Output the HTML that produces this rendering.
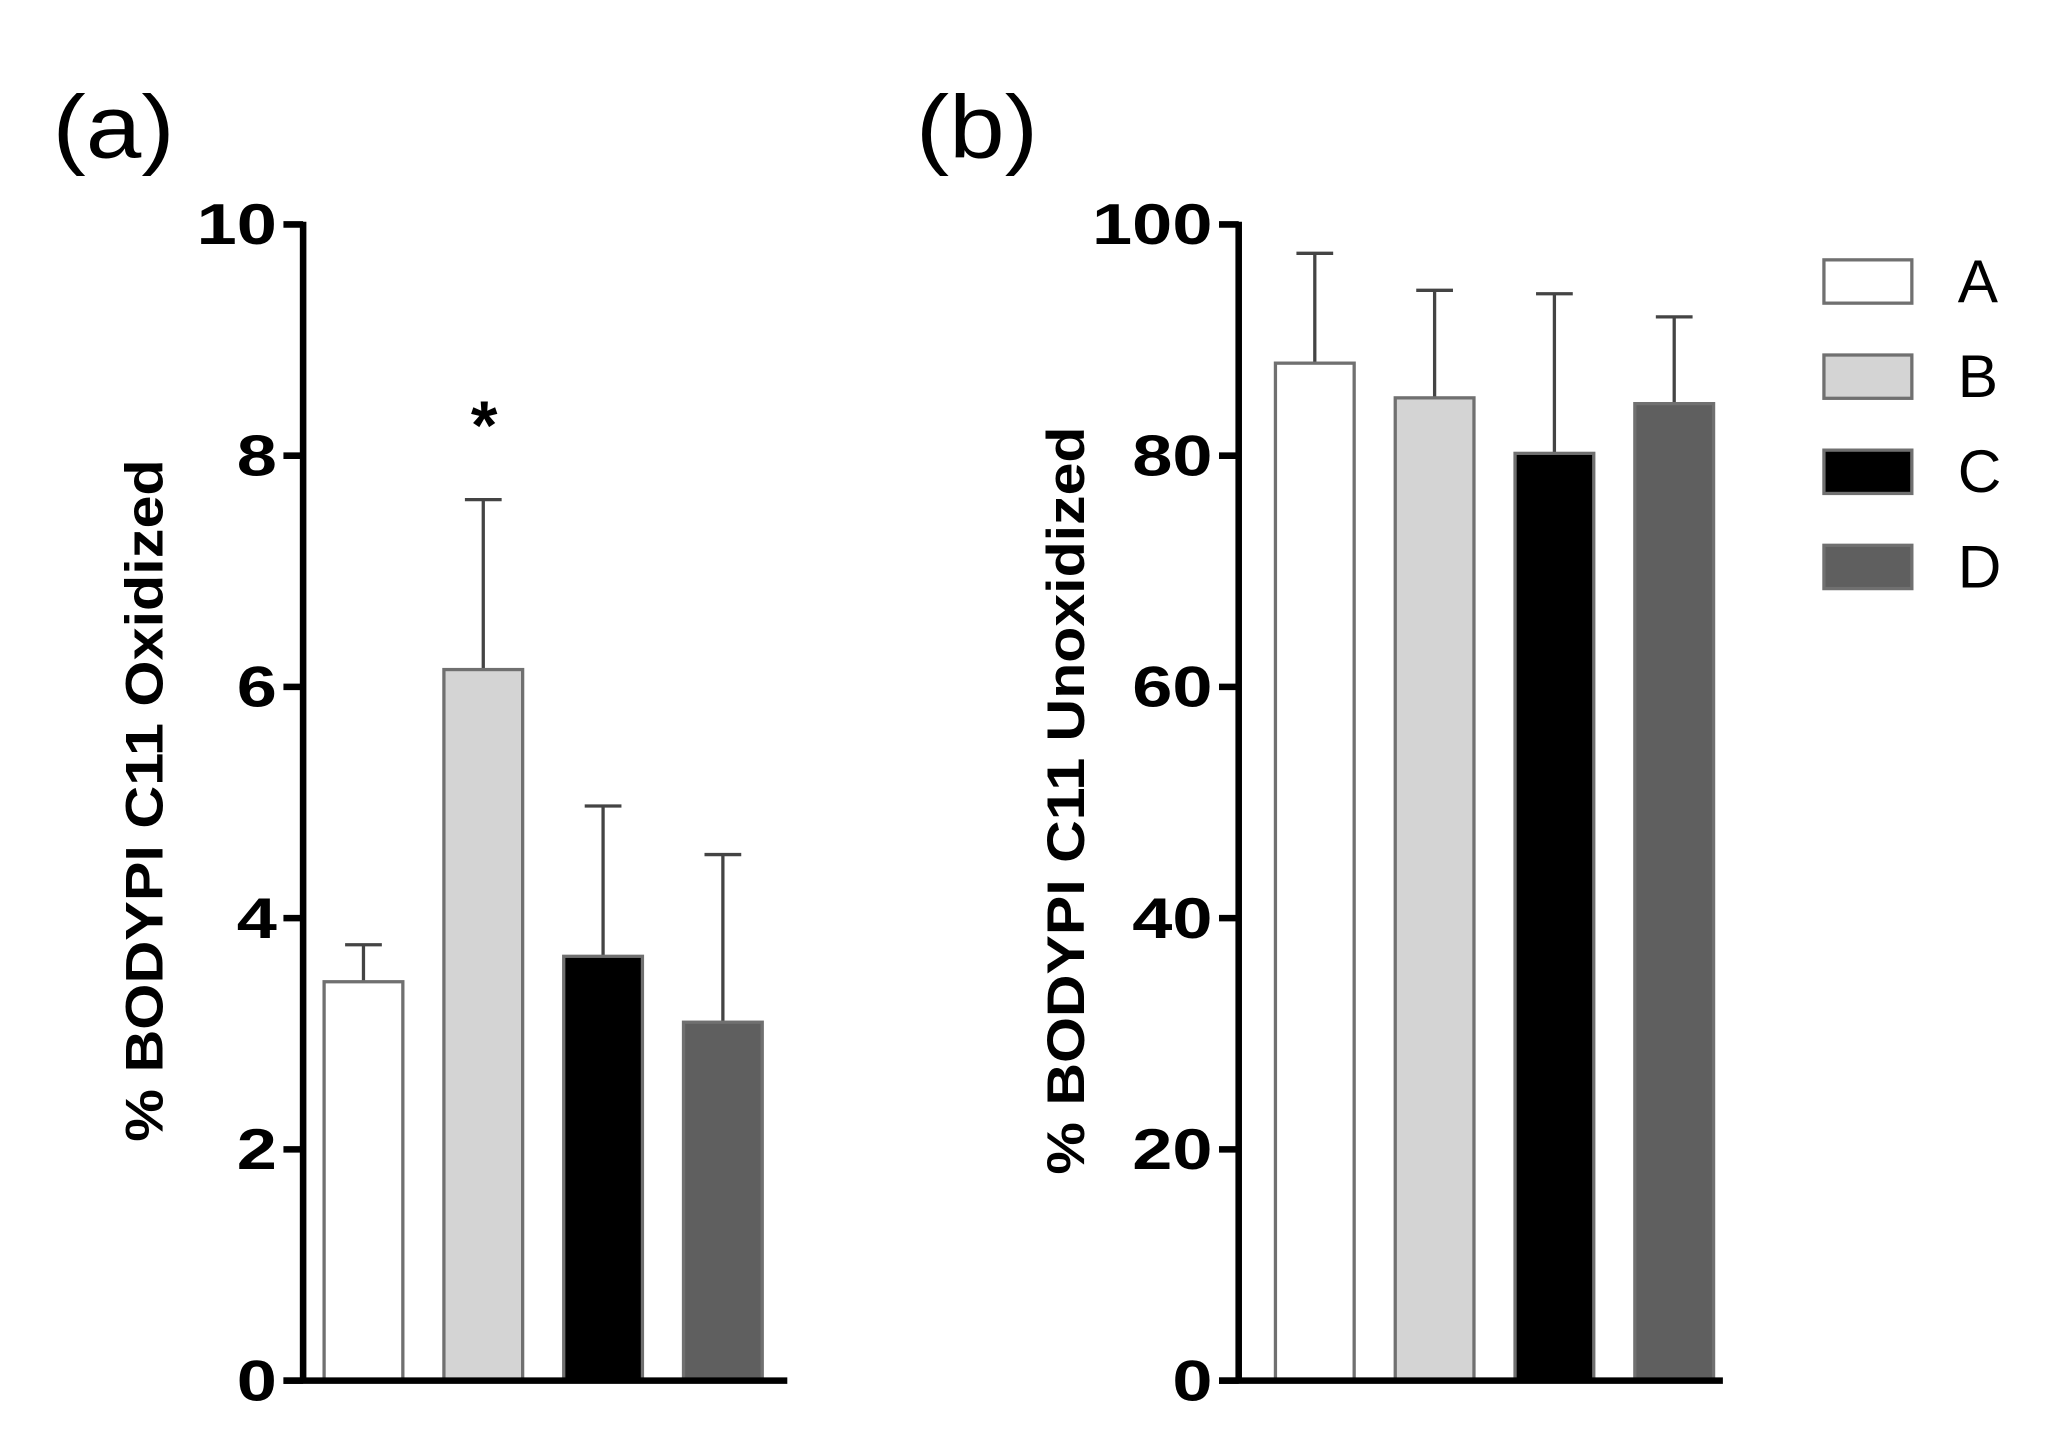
<!DOCTYPE html>
<html><head><meta charset="utf-8"><style>html,body{margin:0;padding:0;background:#fff}svg{display:block}</style></head>
<body>
<svg id="chart" width="2047" height="1441" viewBox="0 0 1560 1098" preserveAspectRatio="none" xmlns="http://www.w3.org/2000/svg" font-family="Liberation Sans, sans-serif">
<text x="0" y="0" font-size="68" transform="translate(40,120) scale(1.12,1)">(a)</text>
<text x="0" y="0" font-size="68" transform="translate(698,120) scale(1.12,1)">(b)</text>
<g id="pa"></g>
<g id="pb"></g>
<g id="legend"></g>
</svg>
<script>
const categories = ["A","B","C","D"];
const oxidizedValues = [3.45, 6.15, 3.67, 3.1];
const oxidizedErrors = [0.32, 1.47, 1.3, 1.45];
const oxidizedTicks = [0,2,4,6,8,10];
const unoxValues = [88, 85, 80.2, 84.5];
const unoxErrors = [9.5, 9.3, 13.8, 7.5];
const unoxTicks = [0,20,40,60,80,100];
const fills = ["#ffffff","#d4d4d4","#000000","#5f5f5f"];
const NS="http://www.w3.org/2000/svg";
function mk(tag,attrs,parent){const e=document.createElementNS(NS,tag);for(const k in attrs)e.setAttribute(k,attrs[k]);parent.appendChild(e);return e;}
function panel(g,axisX,barOff,vals,errs,ticks,max,title,prefix,titleX,titleLen){
  const y0=1052,y1=171;
  const y=v=>y0-(v/max)*(y0-y1);
  const barX=i=>axisX+barOff+i*91.3;
  const bw=60;
  vals.forEach((v,i)=>{
    const cx=barX(i)+bw/2;
    const eb=mk('line',{x1:cx,x2:cx,y1:y(v),y2:y(v+errs[i]),stroke:'#444','stroke-width':2.5},g);
    
    
    const cap=mk('line',{x1:cx-14,x2:cx+14,y1:y(v+errs[i]),y2:y(v+errs[i]),stroke:'#444','stroke-width':2.5},g);
    
    
    const r=mk('rect',{x:barX(i),y:y(v),width:bw,height:y0-y(v),fill:fills[i],stroke:'#707070','stroke-width':2.5},g);
    
    
  });
  const ax=mk('line',{x1:axisX,x2:axisX,y1:y1-2,y2:y0+2,stroke:'#000','stroke-width':5},g);
  
  
  const xa=mk('line',{x1:axisX-15,x2:axisX+369,y1:y0,y2:y0,stroke:'#000','stroke-width':5},g);
  
  
  ticks.forEach(t=>{
    const tk=mk('line',{x1:axisX-15,x2:axisX,y1:y(t),y2:y(t),stroke:'#000','stroke-width':5},g);
    
    
    const tl=mk('text',{x:0,y:0,'text-anchor':'end','font-size':44,'font-weight':'bold',transform:`translate(${axisX-20},${y(t)+15}) scale(1.25,1)`},g);
    tl.textContent=t;
    
    
  });
  const tt=mk('text',{x:0,y:0,'text-anchor':'middle','font-size':40,'font-weight':'bold',textLength:titleLen,lengthAdjust:'spacingAndGlyphs',transform:`translate(${titleX},610) rotate(-90)`},g);
  tt.textContent=title;
  
  
}
panel(document.getElementById('pa'),231,16,oxidizedValues,oxidizedErrors,oxidizedTicks,10,'% BODYPI C11 Oxidized','a',124,520);
panel(document.getElementById('pb'),944,28,unoxValues,unoxErrors,unoxTicks,100,'% BODYPI C11 Unoxidized','b',826,570);
const star=mk('text',{x:369,y:342,'text-anchor':'middle','font-size':52,'font-weight':'bold'},document.getElementById('pa'));
star.textContent='*';


const lg=document.getElementById('legend');
categories.forEach((c,i)=>{
  const yy=198+i*72.5;
  const b=mk('rect',{x:1390,y:yy,width:67,height:33,fill:fills[i],stroke:'#707070','stroke-width':2.5},lg);
  
  
  const t=mk('text',{x:1492,y:yy+32,'font-size':46},lg);
  t.textContent=c;
  
  
});
</script>
</body></html>
